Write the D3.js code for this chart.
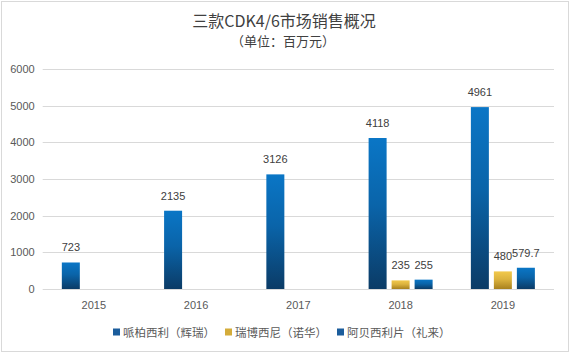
<!DOCTYPE html>
<html>
<head>
<meta charset="utf-8">
<script src="https://cdn.jsdelivr.net/npm/d3@7"></script>
<style>
  body { margin: 0; background: #fff; }
  svg { display: block; font-family: "Liberation Sans", Arial, "Noto Sans CJK SC", sans-serif; }
</style>
</head>
<body>
<script>
const years = ["2015", "2016", "2017", "2018", "2019"];
const seriesNames = ["哌柏西利（辉瑞）", "瑞博西尼（诺华）", "阿贝西利片（礼来）"];
const palbociclib = [723, 2135, 3126, 4118, 4961];
const ribociclib = [null, null, null, 235, 480];
const abemaciclib = [null, null, null, 255, 579.7];
const yTicks = [0, 1000, 2000, 3000, 4000, 5000, 6000];

const width = 570;
const height = 354;
const plot = { left: 42.7, right: 554, top: 69, bottom: 289 };

const seriesValues = [palbociclib, ribociclib, abemaciclib];
const gradIds = ["gBlue", "gYellow", "gBlue"];
const legendColors = ["#1b5d9c", "#d4ac3a", "#1b5d9c"];

const rows = years.map((y, i) => ({
  year: y,
  values: seriesNames.map((s, k) => ({ key: s, k, value: seriesValues[k][i] })),
}));

const svg = d3.select("body").append("svg")
  .attr("width", width)
  .attr("height", height);

const defs = svg.append("defs");
const addGrad = (id, top, bottom) => {
  const g = defs.append("linearGradient").attr("id", id)
    .attr("x1", 0).attr("y1", 0).attr("x2", 0).attr("y2", 1);
  g.append("stop").attr("offset", "0%").attr("stop-color", top);
  g.append("stop").attr("offset", "45%").attr("stop-color", d3.interpolateRgb(top, bottom)(0.3));
  g.append("stop").attr("offset", "100%").attr("stop-color", bottom);
};
addGrad("gBlue", "#0a76c6", "#0b3b66");
addGrad("gYellow", "#f2c94c", "#a8811e");

// outer border
svg.append("rect")
  .attr("x", 1.5).attr("y", 1.5)
  .attr("width", width - 3).attr("height", height - 4)
  .attr("fill", "none")
  .attr("stroke", "#d9d9d9")
  .attr("stroke-width", 1);

const xScale = d3.scaleBand().domain(years).range([plot.left, plot.right]);
const xInner = d3.scaleBand().domain(seriesNames).range([-32, 32]).paddingInner(5 / 23);
const yScale = d3.scaleLinear().domain([0, 6000]).range([plot.bottom, plot.top]);

// gridlines
svg.append("g")
  .selectAll("line")
  .data(yTicks)
  .join("line")
  .attr("x1", plot.left).attr("x2", plot.right)
  .attr("y1", (d) => Math.round(yScale(d)) + 0.5)
  .attr("y2", (d) => Math.round(yScale(d)) + 0.5)
  .attr("stroke", "#d9d9d9")
  .attr("stroke-width", 1);

// y axis labels
const yAxis = d3.axisLeft(yScale).tickValues(yTicks).tickFormat(d3.format("d")).tickSize(0).tickPadding(8);
const yG = svg.append("g").attr("transform", `translate(${plot.left},0)`).call(yAxis);
yG.select(".domain").remove();
yG.selectAll("text").attr("font-size", 11).attr("fill", "#595959")
  .attr("font-family", "'Liberation Sans', Arial, sans-serif");

// x axis labels
const xAxis = d3.axisBottom(xScale).tickSize(0).tickPadding(12);
const xG = svg.append("g").attr("transform", `translate(0,${plot.bottom})`).call(xAxis);
xG.select(".domain").remove();
xG.selectAll("text").attr("font-size", 11).attr("fill", "#595959")
  .attr("font-family", "'Liberation Sans', Arial, sans-serif");

// bars
const groups = svg.append("g")
  .selectAll("g")
  .data(rows)
  .join("g")
  .attr("transform", (d) => `translate(${xScale(d.year) + xScale.bandwidth() / 2},0)`);

groups.selectAll("rect")
  .data((d) => d.values.filter((v) => v.value != null))
  .join("rect")
  .attr("x", (d) => xInner(d.key))
  .attr("width", xInner.bandwidth())
  .attr("y", (d) => yScale(d.value))
  .attr("height", (d) => yScale(0) - yScale(d.value))
  .attr("fill", (d) => `url(#${gradIds[d.k]})`);

groups.selectAll("text")
  .data((d) => d.values.filter((v) => v.value != null))
  .join("text")
  .attr("x", (d) => xInner(d.key) + xInner.bandwidth() / 2)
  .attr("y", (d) => yScale(d.value) - 11)
  .attr("text-anchor", "middle")
  .attr("font-size", 11)
  .attr("fill", "#404040")
  .attr("font-family", "'Liberation Sans', Arial, sans-serif")
  .text((d) => d.value);

// title
svg.append("text")
  .attr("x", 284).attr("y", 27)
  .attr("text-anchor", "middle")
  .attr("font-size", 16)
  .attr("fill", "#404040")
  .attr("font-family", "'Noto Sans CJK SC', sans-serif")
  .text("三款CDK4/6市场销售概况");

svg.append("text")
  .attr("x", 283).attr("y", 46)
  .attr("text-anchor", "middle")
  .attr("font-size", 13)
  .attr("fill", "#404040")
  .attr("font-family", "'Noto Sans CJK SC', sans-serif")
  .text("（单位：百万元）");

// legend
const legendX = [113, 225, 337];
const legend = svg.append("g")
  .selectAll("g")
  .data(seriesNames)
  .join("g")
  .attr("transform", (d, i) => `translate(${legendX[i]},332)`);

legend.append("rect")
  .attr("x", 0).attr("y", -3.5)
  .attr("width", 7).attr("height", 7)
  .attr("fill", (d, i) => legendColors[i]);

legend.append("text")
  .attr("x", 10).attr("y", 4.5)
  .attr("font-size", 11.5)
  .attr("fill", "#595959")
  .attr("font-family", "'Noto Sans CJK SC', sans-serif")
  .text((d) => d);
</script>
</body>
</html>
